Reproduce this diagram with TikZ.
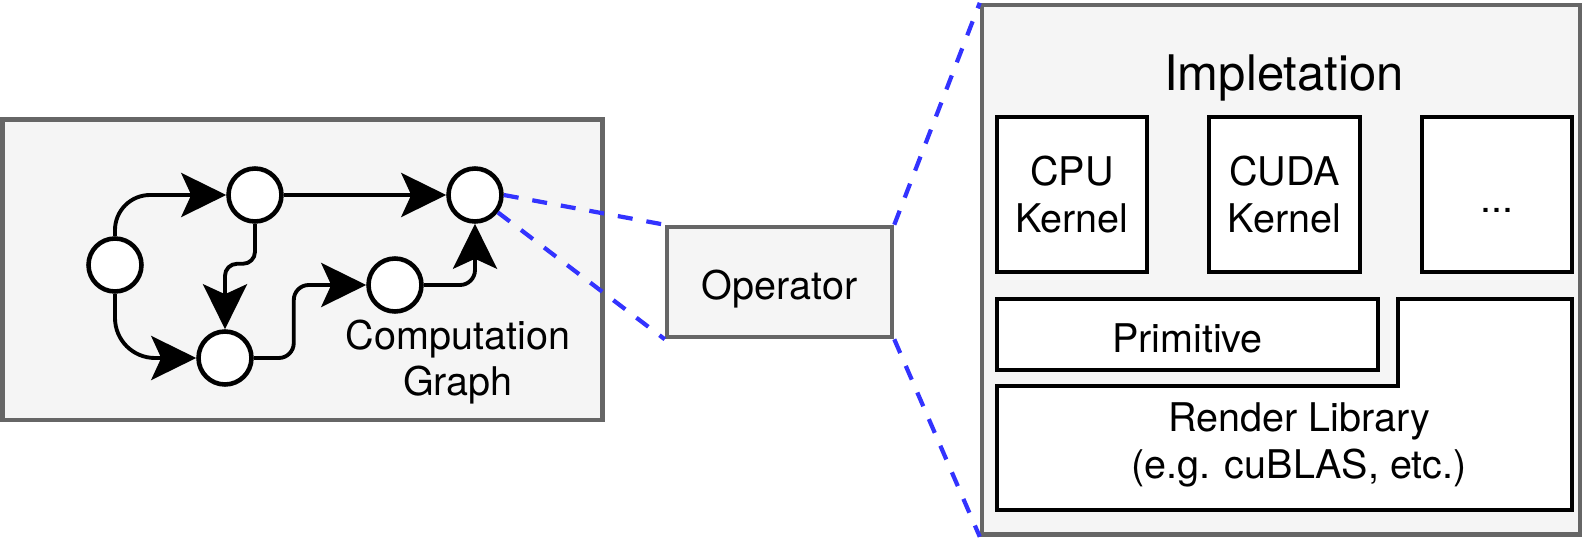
\documentclass[tikz,border=0pt]{standalone}
\usepackage{fontspec}
\setmainfont{TeX Gyre Heros}
\usepackage{tikz}
\usepackage{xcolor}
\usetikzlibrary{arrows.meta, positioning, calc}
\definecolor{cPanel}{RGB}{245,245,245}
\definecolor{cFrame}{RGB}{102,102,102}
\definecolor{cBlue}{RGB}{51,51,255}
\tikzset{
	panel/.style   ={rectangle, draw=cFrame, fill=cPanel, line width=2.6pt, inner sep=0pt},
	vtx/.style     ={circle, draw=black, fill=white, line width=2.6pt, minimum size=1.06cm, inner sep=0pt},
	blk/.style     ={rectangle, draw=black, fill=white, line width=2.6pt, align=center, inner sep=0pt},
	oneline/.style ={text height=24.75pt, text depth=4.5pt},
	edge/.style    ={-{Stealth[length=0.9cm, width=0.88cm, inset=0.2cm]}, line width=2.2pt},
	% dashed zoom lines
	zoomln/.style  ={draw=cBlue, line width=2.4pt, dash pattern=on 0.3cm off 0.28cm},
}
\begin{document}
\begin{tikzpicture}[x=0.02cm, y=-0.02cm, font=\fontsize{22.5}{26.7}\selectfont]
	\useasboundingbox (0,0) rectangle (1585,540);
	% computation graph
	\node[panel, minimum width=12cm, minimum height=6.01cm] (graphbox) at (302.4,269.8) {};
	\node[vtx] (n1) at (115,265) {};
	\node[vtx] (n2) at (255,195) {};
	\node[vtx] (n3) at (475,195) {};
	\node[vtx] (n4) at (395,285) {};
	\node[vtx] (n5) at (225,358) {};
	\draw[edge, rounded corners=0.7cm] (n1.north) |- (n2.west);
	\draw[edge, rounded corners=0.8cm] (n1.south) |- (n5.west);
	\draw[edge] (n2) -- (n3);
	\draw[edge, rounded corners=0.24cm] (n2.south) -- ++(0,40) -| (n5.north);
	\draw[edge, rounded corners=0.3cm] (n5.east) -- ++(40,0) |- (n4.west);
	\draw[edge, rounded corners=0.3cm] (n4.east) -| (n3.south);
	\node[align=center] (cglabel) at (458,362) {Computation\\Graph};
	% operator
	\node[panel, oneline, minimum width=4.5cm, minimum height=2.2cm] (op) at (779.5,282) {Operator};
	% implementation
	\node[panel, minimum width=11.96cm, minimum height=10.59cm] (impl) at (1281,269.8) {};
	\node[anchor=base, font=\fontsize{27.9}{33}\selectfont] (title) at (1284,90.5) {Impletation};
	\node[blk, minimum width=3cm, minimum height=3.1cm] (cpu) at (1072,194.5) {CPU\\Kernel};
	\node[blk, minimum width=3.02cm, minimum height=3.1cm] (cuda) at (1284.5,194.5) {CUDA\\Kernel};
	\node[blk, oneline, minimum width=3cm, minimum height=3.1cm] (more) at (1497,194.5) {...};
	\node[blk, oneline, minimum width=7.62cm, minimum height=1.42cm] (prim) at (1187.5,334.5) {Primitive};
	\draw[line width=2.6pt, fill=white] (997,386) -- (1398,386) -- (1398,299) -- (1572,299) -- (1572,510) -- (997,510) -- cycle;
	\node[align=center] (render) at (1299,445) {Render Library\\(e.g. cuBLAS, etc.)};
	% zoom lines
	\draw[zoomln] (n3.east) -- (op.north west);
	\draw[zoomln] (n3) -- (op.south west);
	\draw[zoomln] (op.north east) -- (impl.north west);
	\draw[zoomln] (op.south east) -- (impl.south west);
\end{tikzpicture}
\end{document}
